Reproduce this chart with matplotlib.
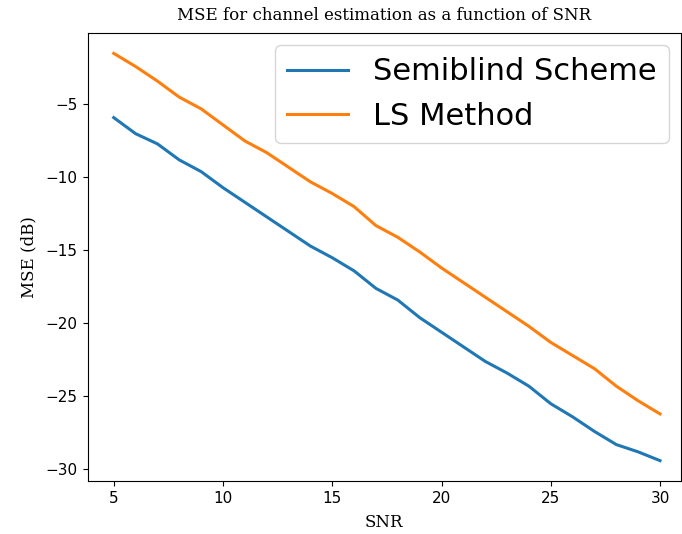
import matplotlib
matplotlib.use('Agg')
import matplotlib.pyplot as plt

# SNR 取值
snr = list(range(5, 31))

# 半盲方案的 MSE (dB)
mse_semiblind = [-5.9, -7.0, -7.7, -8.8, -9.6, -10.7, -11.7, -12.7, -13.7, -14.7,
                 -15.5, -16.4, -17.6, -18.4, -19.6, -20.6, -21.6, -22.6, -23.4, -24.3,
                 -25.5, -26.4, -27.4, -28.3, -28.8, -29.4]

# LS 方法的 MSE (dB)
mse_ls = [-1.5, -2.4, -3.4, -4.5, -5.3, -6.4, -7.5, -8.3, -9.3, -10.3,
          -11.1, -12.0, -13.3, -14.1, -15.1, -16.2, -17.2, -18.2, -19.2, -20.2,
          -21.3, -22.2, -23.1, -24.3, -25.3, -26.2]

fig = plt.figure(figsize=(6.82, 5.34), dpi=100)
ax = fig.add_axes([87.5 / 682, 53 / 534, (681 - 87.5) / 682, 448 / 534])

ax.plot(snr, mse_semiblind, color='#1f77b4', linewidth=2.2, label='Semiblind Scheme')
ax.plot(snr, mse_ls, color='#ff7f0e', linewidth=2.2, label='LS Method')

ax.set_xlim(3.8, 30.96)
ax.tick_params(labelsize=11)
ax.set_title('MSE for channel estimation as a function of SNR', family='DejaVu Serif', fontsize=12, pad=9)
ax.set_xlabel('SNR', family='DejaVu Serif', fontsize=12, labelpad=6)
ax.set_ylabel('MSE (dB)', family='DejaVu Serif', fontsize=12, labelpad=6)

ax.legend(loc='upper right', fontsize=22, borderaxespad=0.4)

fig.savefig('out.png', dpi=100)
